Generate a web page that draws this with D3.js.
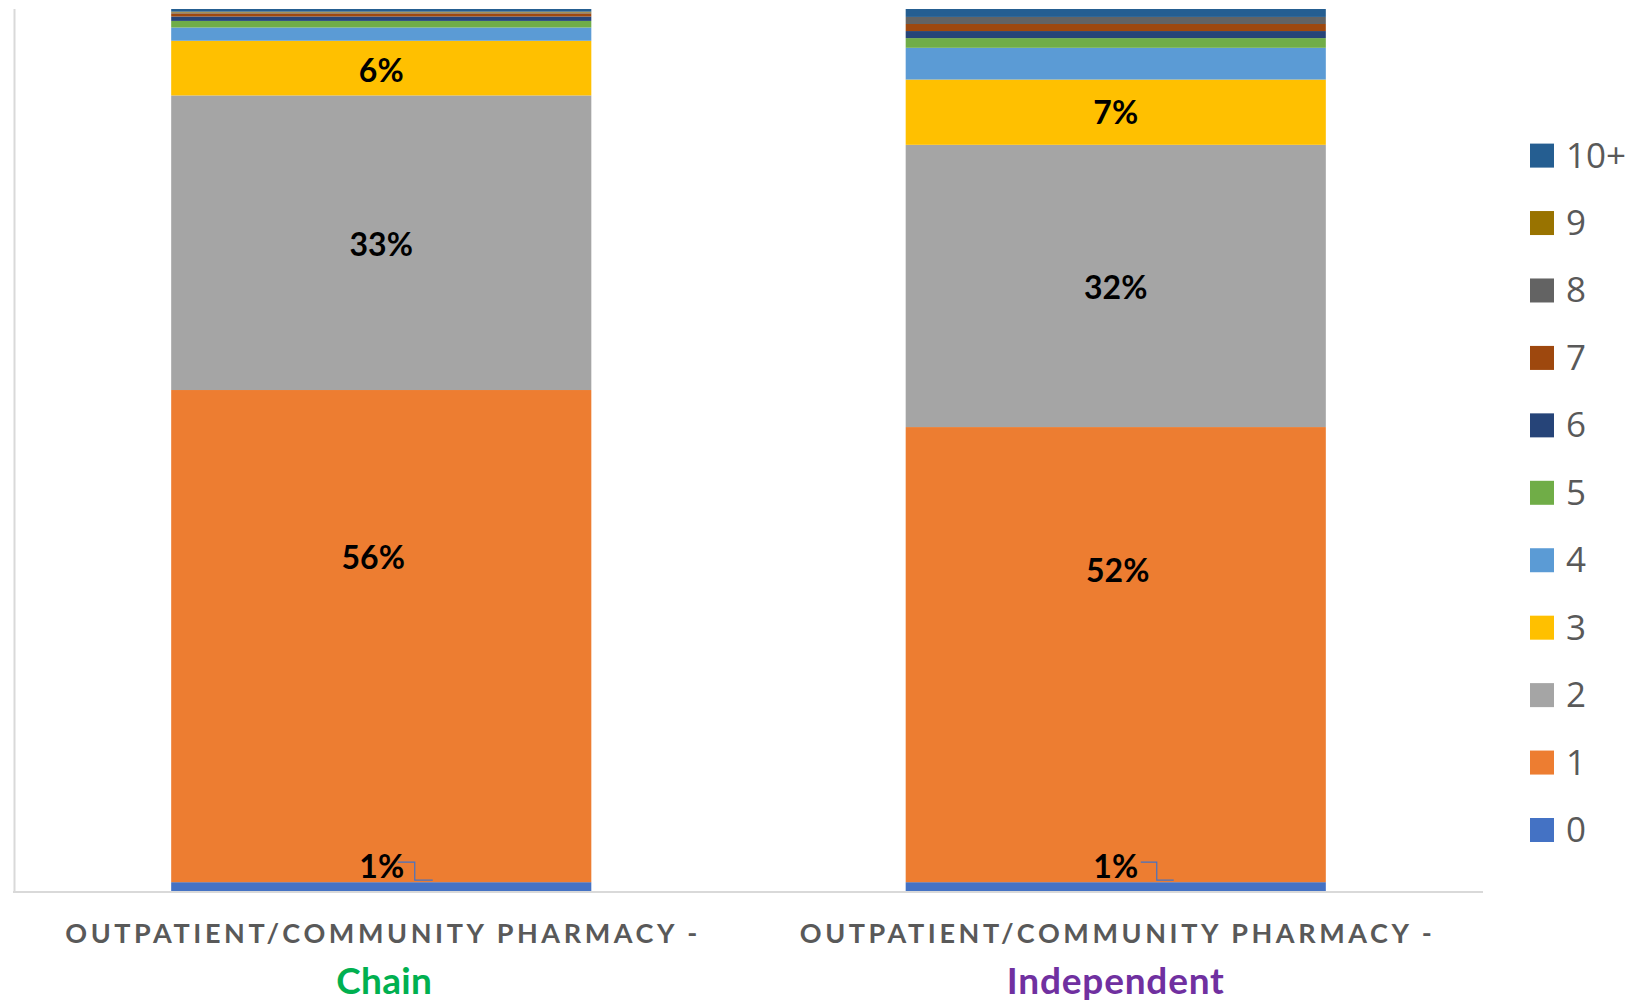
<!DOCTYPE html>
<html>
<head>
<meta charset="utf-8">
<script src="https://cdn.jsdelivr.net/npm/d3@7"></script>
<style>
  html, body { margin: 0; padding: 0; background: #ffffff; }
  svg { display: block; }
</style>
</head>
<body>
<svg id="chart" width="1634" height="1003"></svg>
<script>
// ---- data ----
const categories = ["Chain", "Independent"];
const categoryPrefix = "OUTPATIENT/COMMUNITY PHARMACY -";
const seriesKeys = ["0", "1", "2", "3", "4", "5", "6", "7", "8", "9", "10+"];
const chainValues = [1.0, 55.8, 33.4, 6.2, 1.5, 0.75, 0.5, 0.35, 0.1, 0.1, 0.3];
const independentValues = [1.0, 51.6, 32.0, 7.4, 3.6, 1.1, 0.8, 0.8, 0.8, 0.0, 0.9];
const labelledSeries = ["0", "1", "2", "3"];
const yDomain = [0, 100];

// ---- styles ----
const seriesColors = ["#4472C4", "#ED7D31", "#A5A5A5", "#FFC000", "#5B9BD5", "#70AD47",
                      "#264478", "#9E480E", "#636363", "#997300", "#255E91"];
const categoryColors = ["#00B050", "#7030A0"];
// manual label nudges (pixels) as in the original: [category][series]
const labelNudge = {
  "Chain":       {"0": [0.5, -20.5], "1": [-8, -79], "2": [0, 2], "3": [0, 2]},
  "Independent": {"0": [0, -20.5],   "1": [2, -84], "2": [0, 2], "3": [0, 0]}
};
// leader line from the moved "0" label back to its segment
const leaderOffsets = {
  "Chain":       [[16, -4], [33, -4], [33, 14], [51, 14]],
  "Independent": [[25, -4], [41, -4], [41, 14], [58, 14]]
};

const rows = categories.map((c, i) => {
  const vals = i === 0 ? chainValues : independentValues;
  const r = {category: c};
  seriesKeys.forEach((k, j) => r[k] = vals[j]);
  return r;
});

const svg = d3.select("#chart");
const plot = {left: 14, right: 1483, top: 9, bottom: 891};

const x = d3.scaleBand().domain(categories)
  .range([plot.left, plot.right]).paddingInner(0.428).paddingOuter(0.214);
const y = d3.scaleLinear().domain(yDomain).range([plot.bottom, plot.top]);
const color = d3.scaleOrdinal().domain(seriesKeys).range(seriesColors);

const stacked = d3.stack().keys(seriesKeys)(rows);

// axis lines
svg.append("line").attr("x1", plot.left + 0.5).attr("x2", plot.left + 0.5)
  .attr("y1", plot.top).attr("y2", plot.bottom + 2)
  .attr("stroke", "#D9D9D9").attr("stroke-width", 2);

// bars
const layer = svg.append("g").selectAll("g").data(stacked).join("g")
  .attr("fill", d => color(d.key));
layer.selectAll("rect").data(d => d.map(p => Object.assign(p, {key: d.key})))
  .join("rect")
  .attr("x", d => x(d.data.category))
  .attr("width", x.bandwidth())
  .attr("y", d => y(d[1]))
  .attr("height", d => Math.max(0, y(d[0]) - y(d[1])));

// bottom axis line
svg.append("line").attr("x1", plot.left - 1).attr("x2", plot.right)
  .attr("y1", plot.bottom + 1).attr("y2", plot.bottom + 1)
  .attr("stroke", "#D9D9D9").attr("stroke-width", 2);

// data labels
const labelData = [];
stacked.filter(s => labelledSeries.includes(s.key)).forEach(s => {
  s.forEach(p => {
    const cat = p.data.category;
    const nudge = labelNudge[cat][s.key];
    labelData.push({
      cat, key: s.key, value: p.data[s.key],
      cx: x(cat) + x.bandwidth() / 2 + nudge[0],
      cy: (y(p[0]) + y(p[1])) / 2 + nudge[1]
    });
  });
});

svg.append("g").selectAll("text").data(labelData).join("text")
  .attr("x", d => d.cx).attr("y", d => d.cy)
  .attr("dy", "0.36em")
  .attr("text-anchor", "middle")
  .attr("font-family", "Lato, 'Open Sans', sans-serif")
  .attr("font-weight", 700)
  .attr("font-size", 32)
  .attr("fill", "#000000")
  .text(d => Math.round(d.value) + "%");

// leader lines for "0" labels
labelData.filter(d => d.key === "0").forEach(d => {
  const pts = leaderOffsets[d.cat].map(o => [d.cx + o[0], d.cy + o[1]]);
  svg.append("path")
    .attr("d", d3.line()(pts))
    .attr("fill", "none")
    .attr("stroke", "#4472C4")
    .attr("stroke-width", 1.2);
});

// category labels
const catG = svg.append("g");
categories.forEach((c, i) => {
  const cx = x(c) + x.bandwidth() / 2;
  catG.append("text")
    .attr("x", cx).attr("y", 943)
    .attr("text-anchor", "middle")
    .attr("font-family", "Lato, 'Open Sans', sans-serif")
    .attr("font-weight", 700)
    .attr("font-size", 27)
    .attr("fill", "#595959")
    .attr("textLength", 632)
    .attr("lengthAdjust", "spacing")
    .text(categoryPrefix);
  catG.append("text")
    .attr("x", cx + (i === 0 ? 3 : 0)).attr("y", 994)
    .attr("text-anchor", "middle")
    .attr("font-family", "Lato, 'Open Sans', sans-serif")
    .attr("font-weight", 700)
    .attr("font-size", 37)
    .attr("letter-spacing", i === 0 ? 0.3 : 0.8)
    .attr("fill", categoryColors[i])
    .text(c);
});

// legend (reverse order, 10+ on top)
const legendKeys = seriesKeys.slice().reverse();
const legend = svg.append("g");
const legY = d3.scalePoint().domain(legendKeys).range([143.6, 818]);
legendKeys.forEach(k => {
  const g = legend.append("g").attr("transform", `translate(1530,${legY(k)})`);
  g.append("rect").attr("width", 24).attr("height", 24).attr("fill", color(k));
  g.append("text").attr("x", 36).attr("y", 24)
    .attr("font-family", "'Open Sans', Lato, sans-serif")
    .attr("font-size", 35)
    .attr("fill", "#595959")
    .text(k);
});
</script>
</body>
</html>
